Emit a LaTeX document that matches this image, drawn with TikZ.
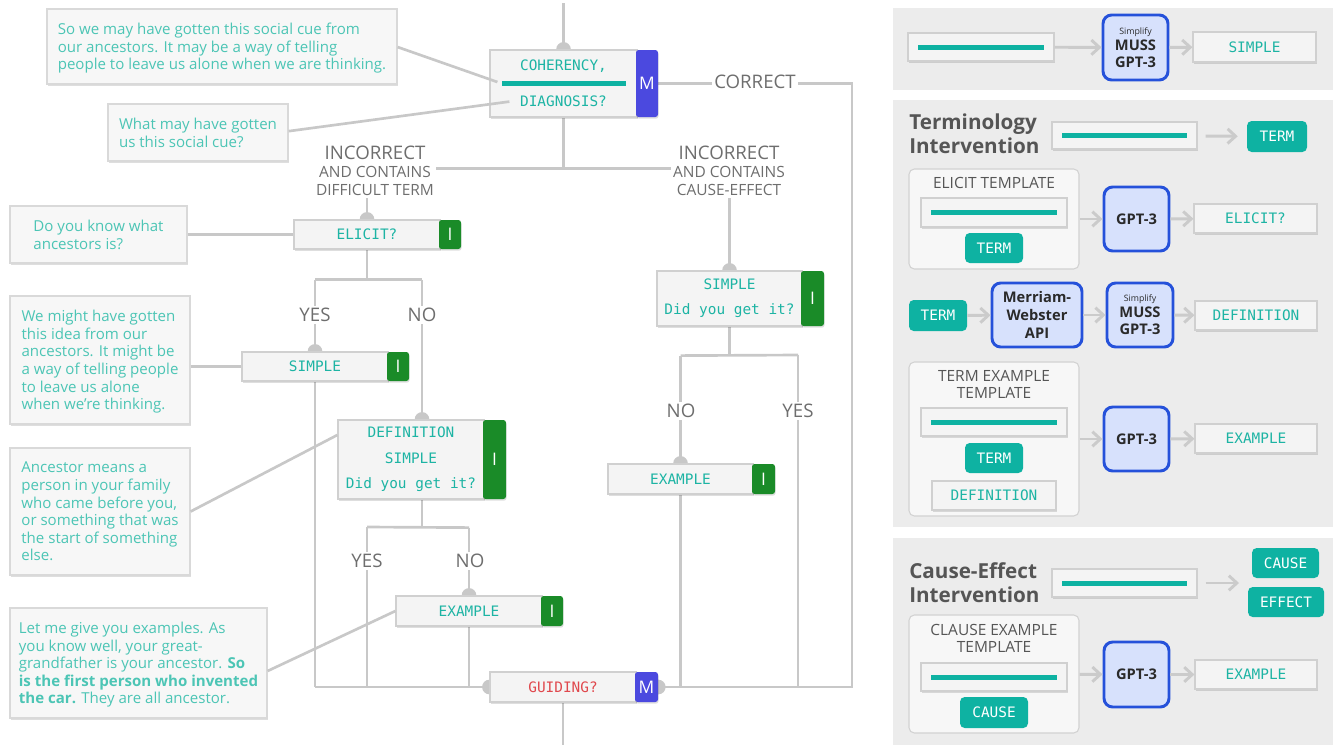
\documentclass[tikz,border=0pt]{standalone}
\usepackage{fontspec}
\setmainfont{Open Sans}
\setsansfont{Open Sans}
\setmonofont{DejaVu Sans Mono}
\usetikzlibrary{arrows.meta,shadows,calc,backgrounds}

% palette
\definecolor{wire}{HTML}{C8C8C8}
\definecolor{arrowgray}{HTML}{CBCBCB}
\definecolor{labelgray}{HTML}{6E6E6E}
\definecolor{boxfill}{HTML}{F4F4F4}
\definecolor{boxline}{HTML}{D0D0D0}
\definecolor{notefill}{HTML}{F7F7F7}
\definecolor{noteline}{HTML}{D9D9D9}
\definecolor{tealtext}{HTML}{1DB4A4}
\definecolor{notetext}{HTML}{4CC5B5}
\definecolor{tealfill}{HTML}{0EB2A2}
\definecolor{mpurple}{HTML}{4B49DF}
\definecolor{igreen}{HTML}{1A8B28}
\definecolor{guidered}{HTML}{E0484D}
\definecolor{panelbg}{HTML}{ECECEC}
\definecolor{modelfill}{HTML}{D7E1FC}
\definecolor{modelline}{HTML}{2551DA}
\definecolor{modeltext}{HTML}{2A2A2A}
\definecolor{titlegray}{HTML}{555555}
\definecolor{tplfill}{HTML}{F7F7F7}
\definecolor{tplline}{HTML}{D2D2D2}

% type sizes
\newcommand\notefont{\fontsize{11.3pt}{13.2pt}\selectfont}
\newcommand\codefont{\ttfamily\fontsize{10.8pt}{13.5pt}\selectfont}
\newcommand\lblfont{\fontsize{14pt}{13.5pt}\selectfont}
\newcommand\sublblfont{\fontsize{11.6pt}{13.5pt}\selectfont}
\newcommand\tabfont{\fontsize{13pt}{14pt}\selectfont}
\newcommand\headfont{\bfseries\fontsize{15.5pt}{18pt}\selectfont}
\newcommand\modelfont{\bfseries\fontsize{11pt}{12.75pt}\selectfont}
\newcommand\tplfont{\fontsize{11.6pt}{12.75pt}\selectfont}
\newcommand\tagfont{\mdseries\fontsize{6.6pt}{8pt}\selectfont}

\tikzset{
  % a node covering the pixel rectangle (x1,y1)-(x2,y2)
  area/.style n args={4}{at={({(#1+#3)/2},{(#2+#4)/2})}, anchor=center,
    minimum width={(#3-#1)*0.75pt}, minimum height={(#4-#2)*0.75pt}},
  soft/.style={drop shadow={shadow xshift=0.4pt, shadow yshift=-1.3pt, opacity=0.13, fill=black}},
  wireline/.style={draw=wire, line width=2pt},
  fbox/.style={draw=boxline, line width=0.9pt, fill=boxfill, inner sep=0pt, soft,
    font=\codefont, text=tealtext, align=center},
  mtab/.style={fill=mpurple, rounded corners=2pt, inner sep=0pt, text=white, font=\tabfont, soft},
  itab/.style={fill=igreen, rounded corners=2pt, inner sep=0pt, text=white, font=\tabfont, soft},
  note/.style={draw=noteline, line width=0.9pt, fill=notefill, inner sep=0pt, soft,
    font=\notefont, text=notetext, align=left, text depth=-1.5pt},
  lbl/.style={fill=white, inner sep=1.5pt, text=labelgray, font=\lblfont, align=center},
  panel/.style={fill=panelbg, inner sep=0pt},
  inbox/.style={draw=boxline, line width=0.9pt, fill=boxfill, inner sep=0pt, soft},
  outbox/.style={draw=boxline, line width=0.9pt, fill=boxfill, inner sep=0pt, soft,
    font=\codefont, text=tealtext},
  model/.style={draw=modelline, line width=2.2pt, fill=modelfill, rounded corners=6.5pt,
    inner sep=0pt, font=\modelfont, text=modeltext, align=center},
  chip/.style={fill=tealfill, rounded corners=3.5pt, inner sep=0pt, font=\codefont, text=white},
  tpl/.style={draw=tplline, line width=0.8pt, fill=tplfill, rounded corners=4pt, inner sep=0pt},
  tpltitle/.style={inner sep=0pt, font=\tplfont, text=titlegray, align=center},
  head/.style={inner sep=0pt, font=\headfont, text=titlegray, align=left},
  blank/.style={draw=tealfill, line width=3.75pt},
  flow/.style={draw=arrowgray, line width=2.2pt, -{Straight Barb[length=6pt,width=11pt]}},
}

\begin{document}
\begin{tikzpicture}[x=0.75pt, y=-0.75pt]
\useasboundingbox (0,0) rectangle (1333,746);

% ---------------- dialogue flow: prompt boxes ----------------
\node[fbox, area={490}{50}{637}{117}] (coh) {COHERENCY,\\[13.5pt]DIAGNOSIS?};
\draw[blank] (502,83.5) -- (626,83.5);
\node[mtab, area={636}{50}{658}{117}] (cohM) {M};
\node[fbox, area={294}{220}{440}{249}] (elicit) {ELICIT?};
\node[itab, area={439}{220}{461}{249}] (elicitI) {I};
\node[fbox, area={242}{352}{388}{381}] (simpL) {SIMPLE};
\node[itab, area={387}{352}{409}{381}] (simpLI) {I};
\node[fbox, area={338}{420}{484}{499}] (defn) {DEFINITION\\[5.5pt]SIMPLE\\[5.5pt]Did you get it?};
\node[itab, area={483}{420}{506}{499}] (defnI) {I};
\node[fbox, area={396}{596}{542}{626}] (exL) {EXAMPLE};
\node[itab, area={541}{596}{563}{626}] (exLI) {I};
\node[fbox, area={657}{271}{802}{326}] (simpR) {SIMPLE\\[5.25pt]Did you get it?};
\node[itab, area={801}{271}{824}{326}] (simpRI) {I};
\node[fbox, area={608}{464}{753}{494}] (exR) {EXAMPLE};
\node[itab, area={752}{464}{775}{494}] (exRI) {I};
\node[fbox, area={490}{672}{636}{702}, text=guidered] (guide) {GUIDING?};
\node[mtab, area={635}{672}{658}{702}] (guideM) {M};

% ---------------- dialogue flow: wiring, behind the boxes ----------------
\begin{scope}[on background layer]
\begin{scope}[wireline]
  \draw (coh.north |- 0,3) -- (coh.north);
  \draw (coh.south) -- ++(0,51) coordinate (j1);
  \draw (elicit.north |- j1) -- (simpR.north |- j1);
  \draw (elicit.north |- j1) -- (elicit.north);
  \draw (simpR.north |- j1) -- (simpR.north);
  \draw (elicit.south) -- ++(0,30) coordinate (j2);
  \coordinate (dtop) at ([xshift=8.25pt]defn.north);
  \draw (simpL.north |- j2) -- (dtop |- j2);
  \draw (simpL.north |- j2) -- (simpL.north);
  \draw (dtop |- j2) -- (dtop);
  \draw (simpL.south) -- (simpL.south |- guide.west);
  \draw (dtop |- defn.south) -- ++(0,28) coordinate (j3);
  \coordinate (j3a) at (367,527);
  \draw (j3a) -- (exL.north |- j3);
  \draw (j3a) -- (j3a |- guide.west);
  \draw (exL.north |- j3) -- (exL.north);
  \draw (exL.south) -- (exL.south |- guide.west);
  \draw (simpL.south |- guide.west) -- (guide.west);
  \draw (guide.south) -- ++(0,42);
  \draw (simpR.south) -- ++(0,29) coordinate (j4);
  \coordinate (j4b) at (798,355);
  \draw (exR.north |- j4) -- (j4b);
  \draw (exR.north |- j4) -- (exR.north);
  \draw (j4b) -- (j4b |- guide.east);
  \draw (exR.south) -- (exR.south |- guide.east);
  \coordinate (rc) at (852,83.5);
  \draw (cohM.east) -- (rc) -- (rc |- guideM.east) -- (guideM.east);
\end{scope}
% entry dots
\foreach \p in {coh.north, elicit.north, simpL.north, dtop, exL.north, simpR.north, exR.north, guide.west, guideM.east}
  \fill[wire] (\p) circle[radius=5.5pt];
\end{scope}

% branch labels
\node[lbl, font=\sublblfont] (incL) at (375,171) {{\lblfont INCORRECT}\\AND CONTAINS\\DIFFICULT TERM};
\node[lbl, font=\sublblfont] (incR) at (729,171) {{\lblfont INCORRECT}\\AND CONTAINS\\CAUSE-EFFECT};
\node[lbl] (corr) at (755,82) {CORRECT};
\node[lbl] (yes1) at (315,315) {YES};
\node[lbl] (no1) at (422,315) {NO};
\node[lbl] (yes2) at (367,561) {YES};
\node[lbl] (no2) at (470,561) {NO};
\node[lbl] (no3) at (681,411) {NO};
\node[lbl] (yes3) at (798,411) {YES};

% ---------------- example utterances ----------------
\node[note, area={47}{9}{397}{84}] (n1) {So we may have gotten this social cue from\\our ancestors. It may be a way of telling\\people to leave us alone when we are thinking.};
\node[note, area={108}{104}{288}{161}] (n2) {What may have gotten\\us this social cue?};
\node[note, area={10}{206}{187}{263}] (n3) {Do you know what\\ancestors is?};
\node[note, area={10}{296}{190}{424}] (n4) {We might have gotten\\this idea from our\\ancestors. It might be\\a way of telling people\\to leave us alone\\when we're thinking.};
\node[note, area={10}{448}{190}{575}] (n5) {Ancestor means a\\person in your family\\who came before you,\\or something that was\\the start of something\\else.};
\node[note, area={10}{608}{267}{718}] (n6) {Let me give you examples. As\\you know well, your great-\\grandfather is your ancestor. \textbf{So}\\\textbf{is the first person who invented}\\\textbf{the car.} They are all ancestor.};

\begin{scope}[wireline]
  \draw ([yshift=-0.4pt]n1.east) -- ([xshift=6pt,yshift=1.1pt]coh.west);
  \draw ([yshift=1pt]n2.east) -- ([xshift=15pt,yshift=12pt]coh.south west);
  \draw (n3.east) -- (elicit.west);
  \draw (n4.east |- simpL.west) -- (simpL.west);
  \draw (n5.east) -- ([yshift=18.4pt]defn.west);
  \draw ([yshift=-6pt]n6.east) -- (exL.west);
\end{scope}

% ---------------- generation pipelines ----------------
% simplification
\node[panel, area={893}{8}{1333}{90}] (pA) {};
\node[inbox, area={908}{33}{1054}{61}] (in1) {};
\draw[blank] ([xshift=8.25pt]in1.west) -- ([xshift=-8.25pt]in1.east);
\node[model, area={1103}{15}{1168}{80}] (m1) {{\tagfont Simplify}\\[-1pt]MUSS\\GPT-3};
\node[outbox, area={1193}{32}{1316}{62}] (o1) {SIMPLE};
\draw[flow] (in1) -- (m1);
\draw[flow] (m1) -- (o1);

% terminology intervention
\node[panel, area={893}{100}{1333}{527}] (pB) {};
\node[head, anchor=west] (hB) at (909,134) {Terminology\\Intervention};
\node[inbox, area={1052}{122}{1197}{149}] (in2) {};
\draw[blank] ([xshift=8.25pt]in2.west) -- ([xshift=-8.25pt]in2.east);
\node[chip, area={1247}{121}{1307}{152}] (t1) {TERM};
\draw[flow, shorten <=6pt, shorten >=6.75pt] (in2) -- (t1);

\node[tpl, area={909}{169}{1079}{269}] (c1) {};
\node[tpltitle] (c1t) at (994,183) {ELICIT TEMPLATE};
\node[inbox, area={921}{198}{1067}{227}] (in3) {};
\draw[blank] ([xshift=8.25pt]in3.west) -- ([xshift=-8.25pt]in3.east);
\node[chip, area={965}{233}{1023}{263}] (t2) {TERM};
\node[model, area={1104}{187}{1169}{251}] (g1) {GPT-3};
\node[outbox, area={1194}{204}{1317}{233}] (o2) {ELICIT?};
\draw[flow] (c1) -- (g1);
\draw[flow] (g1) -- (o2);

\node[chip, area={909}{300}{967}{331}] (t3) {TERM};
\node[model, area={992}{283}{1082}{347}, font=\bfseries\fontsize{11pt}{13.5pt}\selectfont] (mw) {Merriam-\\Webster\\API};
\node[model, area={1107}{283}{1173}{347}] (m2) {{\tagfont Simplify}\\[-1pt]MUSS\\GPT-3};
\node[outbox, area={1195}{301}{1317}{330}] (o3) {DEFINITION};
\draw[flow] (t3) -- (mw);
\draw[flow] (mw) -- (m2);
\draw[flow] (m2) -- (o3);

\node[tpl, area={909}{362}{1079}{516}] (c2) {};
\node[tpltitle] (c2t) at (994,384.5) {TERM EXAMPLE\\TEMPLATE};
\node[inbox, area={921}{408}{1067}{436}] (in4) {};
\draw[blank] ([xshift=8.25pt]in4.west) -- ([xshift=-8.25pt]in4.east);
\node[chip, area={965}{443}{1023}{473}] (t4) {TERM};
\node[outbox, area={932}{481}{1056}{510}] (d1) {DEFINITION};
\node[model, area={1104}{407}{1169}{471}] (g2) {GPT-3};
\node[outbox, area={1195}{424}{1317}{453}] (o4) {EXAMPLE};
\draw[flow] (c2) -- (g2);
\draw[flow] (g2) -- (o4);

% cause-effect intervention
\node[panel, area={893}{538}{1333}{745}] (pC) {};
\node[head, anchor=west] (hC) at (909,583) {Cause-Effect\\Intervention};
\node[inbox, area={1052}{569}{1197}{597}] (in5) {};
\draw[blank] ([xshift=8.25pt]in5.west) -- ([xshift=-8.25pt]in5.east);
\node[chip, area={1252}{548}{1319}{578}] (ca1) {CAUSE};
\node[chip, area={1248}{587}{1324}{617}] (ef1) {EFFECT};
\coordinate (ce) at (1239,583);
\draw[flow, shorten <=6pt] (in5) -- (ce);

\node[tpl, area={909}{615}{1079}{733}] (c3) {};
\node[tpltitle] (c3t) at (994,638.5) {CLAUSE EXAMPLE\\TEMPLATE};
\node[inbox, area={921}{663}{1067}{691}] (in6) {};
\draw[blank] ([xshift=8.25pt]in6.west) -- ([xshift=-8.25pt]in6.east);
\node[chip, area={960}{697}{1028}{728}] (ca2) {CAUSE};
\node[model, area={1104}{642}{1169}{707}] (g3) {GPT-3};
\node[outbox, area={1195}{660}{1317}{689}] (o5) {EXAMPLE};
\draw[flow] (c3) -- (g3);
\draw[flow] (g3) -- (o5);

\end{tikzpicture}
\end{document}
